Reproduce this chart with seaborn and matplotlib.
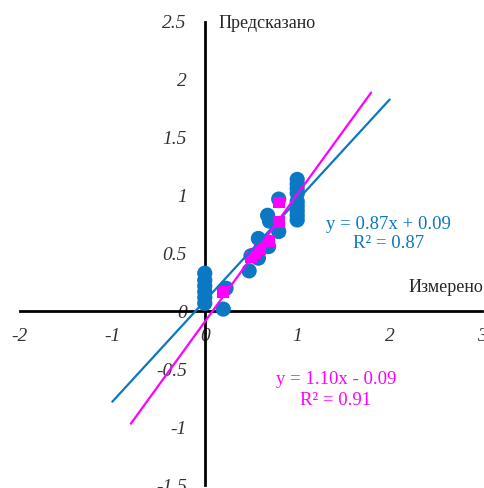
import matplotlib
matplotlib.use("Agg")
import matplotlib.pyplot as plt
import numpy as np
import pandas as pd
import seaborn as sns

# measured vs predicted, first model (blue circles)
blue_x = [0, 0, 0, 0, 0, 0, 0.2, 0.23, 0.48, 0.5, 0.58, 0.58, 0.69, 0.68,
          0.7, 0.8, 0.8, 1, 1, 1, 1, 1, 1, 1, 1, 1]
blue_y = [0.33, 0.27, 0.22, 0.17, 0.12, 0.07, 0.02, 0.2, 0.35, 0.48, 0.46,
          0.63, 0.56, 0.83, 0.78, 0.97, 0.69, 1.14, 1.1, 1.06, 1.02, 0.95,
          0.91, 0.87, 0.83, 0.79]

# second model (magenta squares)
mag_x = [0.2, 0.5, 0.55, 0.6, 0.7, 0.8, 0.8]
mag_y = [0.17, 0.47, 0.5, 0.54, 0.61, 0.77, 0.94]

# trend lines: slope, intercept, drawn range
blue_fit = (0.87, 0.09, -1.0, 2.0)
mag_fit = (1.10, -0.09, -0.8, 1.8)

x_ticks = [-2, -1, 0, 1, 2, 3]
y_ticks = [-1.5, -1, -0.5, 0, 0.5, 1, 1.5, 2, 2.5]
y_tick_labels = ["-1.5", "-1", "-0.5", "0", "0.5", "1", "1.5", "2", "2.5"]

BLUE = "#0a78c2"
MAGENTA = "#ff00ff"

sns.set_style("white")
plt.rcParams["font.family"] = ["Liberation Serif", "DejaVu Serif"]

fig = plt.figure(figsize=(4.85, 4.88), dpi=100)
ax = fig.add_axes([0.041, 0.006, 0.953, 0.949])

df_blue = pd.DataFrame({"x": blue_x, "y": blue_y})
df_mag = pd.DataFrame({"x": mag_x, "y": mag_y})

sns.scatterplot(data=df_blue, x="x", y="y", ax=ax, color=BLUE, s=120,
                marker="o", edgecolor="none", zorder=3)
sns.scatterplot(data=df_mag, x="x", y="y", ax=ax, color=MAGENTA, s=70,
                marker="s", edgecolor="none", zorder=4)

for (k, b, x0, x1), col in [(blue_fit, BLUE), (mag_fit, MAGENTA)]:
    xs = np.array([x0, x1])
    sns.lineplot(x=xs, y=k * xs + b, ax=ax, color=col, lw=1.6, zorder=5)

ax.set_xlim(-2, 3)
ax.set_ylim(-1.5, 2.5)
ax.set_xticks(x_ticks)
ax.set_xticklabels([str(t) for t in x_ticks])
ax.set_yticks(y_ticks)
ax.set_yticklabels(y_tick_labels)

for side in ["top", "right"]:
    ax.spines[side].set_visible(False)
for side in ["left", "bottom"]:
    ax.spines[side].set_position(("data", 0))
    ax.spines[side].set_linewidth(2)
    ax.spines[side].set_color("black")

ax.tick_params(axis="both", direction="out", length=4, width=2,
               labelsize=14, colors="black")
ax.tick_params(axis="x", pad=8)
ax.tick_params(axis="y", pad=9)
for lab in ax.get_xticklabels() + ax.get_yticklabels():
    lab.set_fontstyle("italic")
    lab.set_color("#333333")

ax.set_xlabel("")
ax.set_ylabel("")

ax.text(0.15, 2.49, "Предсказано", fontsize=13, ha="left", va="center")
ax.text(2.2, 0.21, "Измерено", fontsize=13, ha="left", va="center")

ax.text(1.99, 0.75, "y = 0.87x + 0.09", color=BLUE, fontsize=13.5,
        ha="center", va="center")
ax.text(1.99, 0.59, "R² = 0.87", color=BLUE, fontsize=13.5,
        ha="center", va="center")
ax.text(1.42, -0.59, "y = 1.10x - 0.09", color=MAGENTA, fontsize=13.5,
        ha="center", va="center")
ax.text(1.42, -0.77, "R² = 0.91", color=MAGENTA, fontsize=13.5,
        ha="center", va="center")

fig.savefig("out.png", dpi=100)
